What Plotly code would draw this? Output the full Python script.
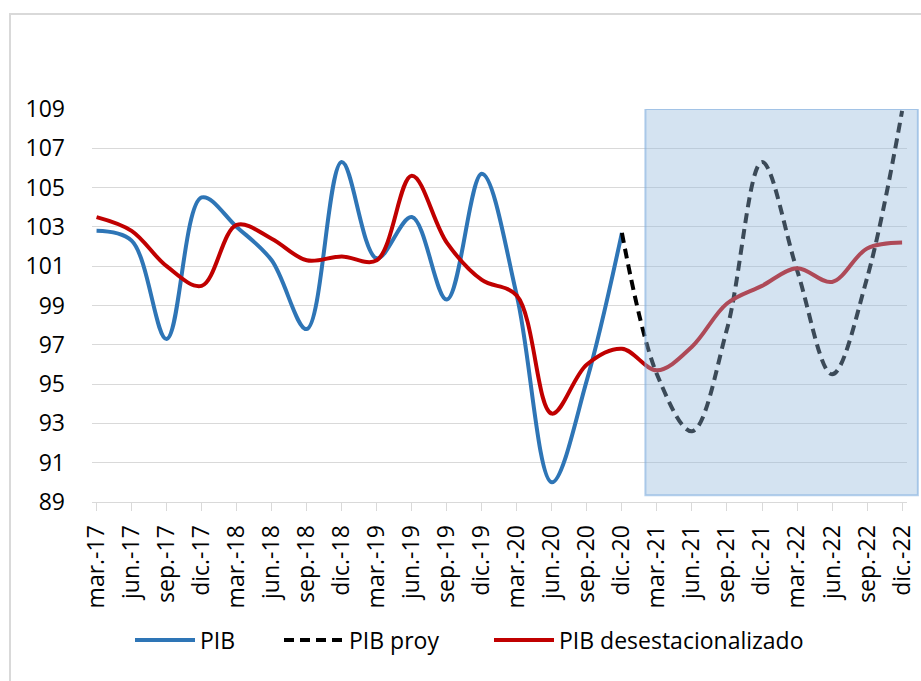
import plotly.graph_objects as go

# ---------------- data ----------------
categories = ["mar.-17", "jun.-17", "sep.-17", "dic.-17", "mar.-18", "jun.-18",
              "sep.-18", "dic.-18", "mar.-19", "jun.-19", "sep.-19", "dic.-19",
              "mar.-20", "jun.-20", "sep.-20", "dic.-20", "mar.-21", "jun.-21",
              "sep.-21", "dic.-21", "mar.-22", "jun.-22", "sep.-22", "dic.-22"]

pib = [102.8, 102.3, 97.3, 104.5, 103.0, 101.3, 97.8, 106.3, 101.4, 103.5,
       99.3, 105.7, 99.5, 90.0, 95.2, 102.7]

proy_categories = categories[15:]
pib_proy = [102.7, 95.5, 92.6, 97.8, 106.3, 100.8, 95.5, 100.4, 108.9]

pib_desest = [103.5, 102.8, 101.0, 100.0, 103.1, 102.4, 101.3, 101.5, 101.3,
              105.6, 102.2, 100.3, 99.5, 93.5, 96.0, 96.8, 95.7, 96.9, 99.1,
              100.0, 100.9, 100.2, 101.9, 102.2]

y_ticks = [89, 91, 93, 95, 97, 99, 101, 103, 105, 107, 109]

# projection band (category positions, value bottom/top)
band_x = [15.67, 23.45]
band_y = [89.34, 109.0]

# ---------------- layout geometry ----------------
W, H = 921, 681
L, R, T, B = 92, 14, 109, 179
x_range = [-0.13, 23.14]
plot_w = W - L - R
plot_h = H - T - B

FONT = "'Open Sans', Lato, 'DejaVu Sans', sans-serif"
FS = 23


def xpaper_from_data(v):
    return (v - x_range[0]) / (x_range[1] - x_range[0])


def xpaper_from_px(px):
    return (px - L) / plot_w


def ypaper_from_px(py):
    return (H - B - py) / plot_h


fig = go.Figure()

fig.add_trace(go.Scatter(
    x=categories[:len(pib)], y=pib, name="PIB", mode="lines",
    line=dict(color="#2e75b6", width=4, shape="spline", smoothing=1.0),
    legend="legend",
))
fig.add_trace(go.Scatter(
    x=proy_categories, y=pib_proy, name="PIB proy", mode="lines",
    line=dict(color="#000000", width=4, dash="10px,6px", shape="spline", smoothing=1.0),
    legend="legend2",
))
fig.add_trace(go.Scatter(
    x=categories, y=pib_desest, name="PIB desestacionalizado", mode="lines",
    line=dict(color="#c00000", width=4, shape="spline", smoothing=1.0),
    legend="legend3",
))

# projection band (semi-transparent, above lines)
fig.add_shape(
    type="rect", xref="paper", yref="y",
    x0=xpaper_from_data(band_x[0]), x1=xpaper_from_data(band_x[1]),
    y0=band_y[0], y1=band_y[1],
    fillcolor="rgba(148,185,220,0.40)",
    line=dict(color="rgba(120,170,220,0.55)", width=2),
    layer="above",
)

# outer chart frame
fig.add_shape(
    type="rect", xref="paper", yref="paper",
    x0=xpaper_from_px(10), x1=xpaper_from_px(940),
    y0=ypaper_from_px(700), y1=ypaper_from_px(14),
    line=dict(color="#d9d9d9", width=2), fillcolor="rgba(0,0,0,0)",
    layer="below",
)

leg_common = dict(orientation="h", yanchor="middle", xanchor="left",
                  bgcolor="rgba(0,0,0,0)", borderwidth=0, itemwidth=60,
                  font=dict(family=FONT, size=FS, color="#000000"))
leg_y = ypaper_from_px(640)

fig.update_layout(
    width=W, height=H,
    margin=dict(l=L, r=R, t=T, b=B, pad=0, autoexpand=False),
    paper_bgcolor="white", plot_bgcolor="white",
    font=dict(family=FONT, size=FS, color="#000000"),
    showlegend=True,
    legend=dict(x=xpaper_from_px(130), y=leg_y, **leg_common),
    legend2=dict(x=xpaper_from_px(279), y=leg_y, **leg_common),
    legend3=dict(x=xpaper_from_px(489), y=leg_y, **leg_common),
    xaxis=dict(
        type="category", categoryorder="array", categoryarray=categories,
        range=x_range, showgrid=False, zeroline=False, automargin=False,
        showline=True, linecolor="#d9d9d9", linewidth=1,
        ticks="outside", ticklen=8, tickcolor="#d9d9d9", tickwidth=1,
        tickangle=-90, ticklabelstandoff=5,
        tickfont=dict(family=FONT, size=FS, color="#000000"),
    ),
    yaxis=dict(
        range=[y_ticks[0], y_ticks[-1]], tickmode="array", tickvals=y_ticks,
        showgrid=True, gridcolor="#d9d9d9", gridwidth=1, automargin=False,
        zeroline=False, showline=False, ticks="",
        ticklabelstandoff=26,
        tickfont=dict(family=FONT, size=FS, color="#000000"),
    ),
)

fig.write_html("out.html", config={"displayModeBar": False},
               post_script="document.body.style.margin='0';document.body.style.overflow='hidden';")
